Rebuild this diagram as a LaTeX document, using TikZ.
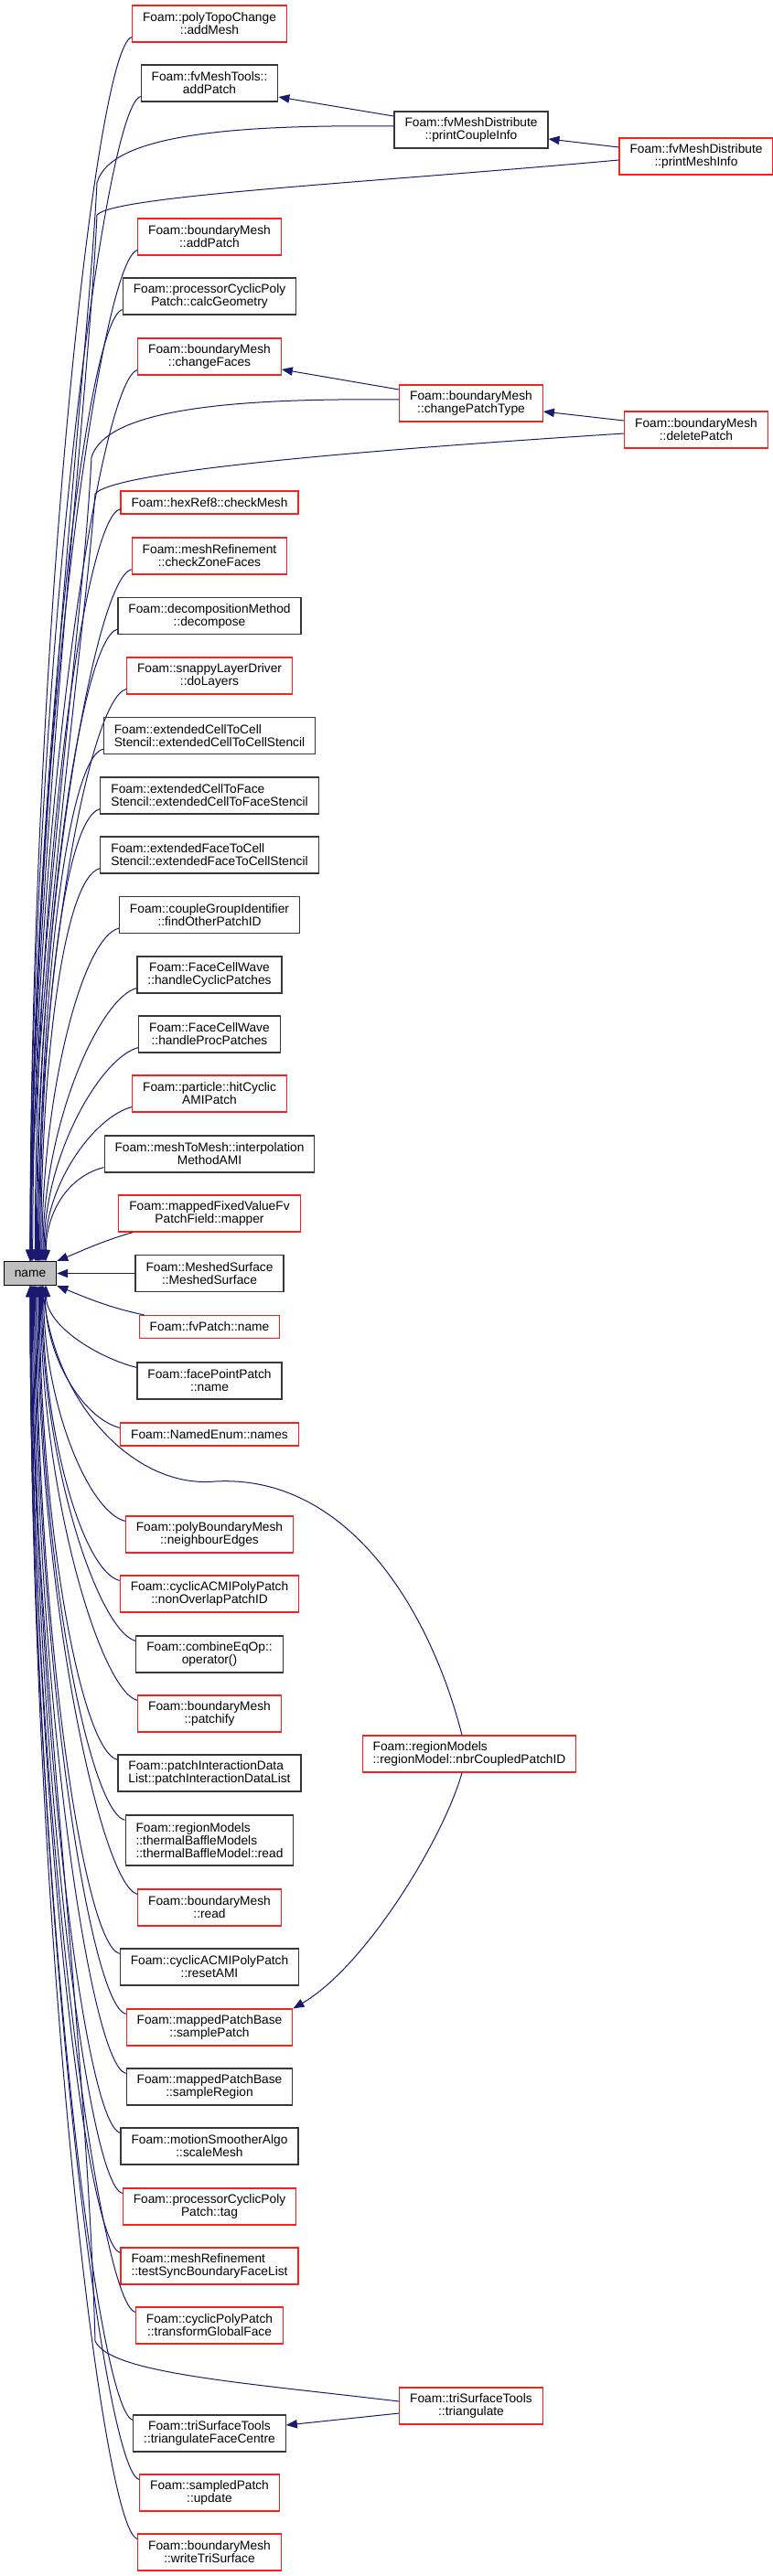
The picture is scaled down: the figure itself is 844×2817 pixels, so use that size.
\documentclass[tikz,border=0pt]{standalone}
\usepackage{fontspec}
\setmainfont{Liberation Sans}
\usepackage{tikz}
\usetikzlibrary{arrows.meta}
\definecolor{edgecol}{RGB}{25,25,112}
\definecolor{boxred}{RGB}{255,30,30}
\definecolor{boxgrey}{RGB}{55,55,55}
\definecolor{namefill}{RGB}{191,191,191}

\begin{document}
\begin{tikzpicture}[x=0.75pt, y=-0.75pt, font=\fontsize{10.3}{10.5}\selectfont,
    box/.style={draw=#1, line width=0.9pt, inner xsep=8.6pt, inner ysep=0pt},
    call/.style={edgecol, line width=0.75pt, -{Triangle[length=9pt, width=7pt]}}]

  \useasboundingbox (0,0) rectangle (844,2817);

  %% ─── Callee ───────────────────────────────────────────────────────────────
  \node[box=black, fill=namefill, minimum height=26*0.75pt] (callee) at (33,1392.5) {name};

  %% ─── Direct callers (one column) ──────────────────────────────────────────
  \foreach \id/\y/\n/\col/\al/\txt in {
      addMesh/26/2/boxred/center/{Foam::polyTopoChange\\::addMesh},
      mtAddPatch/91/2/boxgrey/center/{Foam::fvMeshTools::\\addPatch},
      bmAddPatch/259/2/boxred/center/{Foam::boundaryMesh\\::addPatch},
      calcGeom/324/2/boxgrey/center/{Foam::processorCyclicPoly\\Patch::calcGeometry},
      changeFaces/390/2/boxred/center/{Foam::boundaryMesh\\::changeFaces},
      checkMesh/549.5/1/boxred/center/{Foam::hexRef8::checkMesh},
      checkZone/608/2/boxred/center/{Foam::meshRefinement\\::checkZoneFaces},
      decompose/673.5/2/boxgrey/center/{Foam::decompositionMethod\\::decompose},
      doLayers/739/2/boxred/center/{Foam::snappyLayerDriver\\::doLayers},
      cellToCell/804.5/2/boxgrey/left/{Foam::extendedCellToCell\\Stencil::extendedCellToCellStencil},
      cellToFace/870/2/boxgrey/left/{Foam::extendedCellToFace\\Stencil::extendedCellToFaceStencil},
      faceToCell/935/2/boxgrey/left/{Foam::extendedFaceToCell\\Stencil::extendedFaceToCellStencil},
      findOther/1000.5/2/boxgrey/center/{Foam::coupleGroupIdentifier\\::findOtherPatchID},
      handleCyclic/1066/2/boxgrey/center/{Foam::FaceCellWave\\::handleCyclicPatches},
      handleProc/1131/2/boxgrey/center/{Foam::FaceCellWave\\::handleProcPatches},
      hitCyclic/1196/2/boxred/center/{Foam::particle::hitCyclic\\AMIPatch},
      interpAMI/1262/2/boxgrey/center/{Foam::meshToMesh::interpolation\\MethodAMI},
      mapper/1327/2/boxred/center/{Foam::mappedFixedValueFv\\PatchField::mapper},
      meshedSurf/1392.5/2/boxgrey/center/{Foam::MeshedSurface\\::MeshedSurface},
      fvPatchName/1451/1/boxred/center/{Foam::fvPatch::name},
      facePointName/1510/2/boxgrey/center/{Foam::facePointPatch\\::name},
      namedEnum/1568.5/1/boxred/center/{Foam::NamedEnum::names},
      nbrEdges/1678/2/boxred/center/{Foam::polyBoundaryMesh\\::neighbourEdges},
      nonOverlap/1743/2/boxred/center/{Foam::cyclicACMIPolyPatch\\::nonOverlapPatchID},
      combineOp/1809/2/boxgrey/center/{Foam::combineEqOp::\\operator()},
      patchify/1874/2/boxred/center/{Foam::boundaryMesh\\::patchify},
      interList/1939/2/boxgrey/left/{Foam::patchInteractionData\\List::patchInteractionDataList},
      baffleRead/2012.5/3/boxgrey/left/{Foam::regionModels\\::thermalBaffleModels\\::thermalBaffleModel::read},
      bmRead/2086/2/boxred/center/{Foam::boundaryMesh\\::read},
      resetAMI/2151/2/boxgrey/center/{Foam::cyclicACMIPolyPatch\\::resetAMI},
      samplePatch/2217/2/boxred/center/{Foam::mappedPatchBase\\::samplePatch},
      sampleRegion/2282/2/boxgrey/center/{Foam::mappedPatchBase\\::sampleRegion},
      scaleMesh/2347/2/boxgrey/center/{Foam::motionSmootherAlgo\\::scaleMesh},
      procTag/2413/2/boxred/center/{Foam::processorCyclicPoly\\Patch::tag},
      testSync/2478/2/boxred/left/{Foam::meshRefinement\\::testSyncBoundaryFaceList},
      transformFace/2543/2/boxred/center/{Foam::cyclicPolyPatch\\::transformGlobalFace},
      triFaceCentre/2661/2/boxgrey/center/{Foam::triSurfaceTools\\::triangulateFaceCentre},
      sampledUpdate/2726/2/boxred/center/{Foam::sampledPatch\\::update},
      writeTri/2791/2/boxred/center/{Foam::boundaryMesh\\::writeTriSurface}} {
    \node[box=\col, align=\al, minimum height={(15*\n+10)*0.75pt}] (\id) at (229,\y) {\txt};
    % callers above the callee bend down onto its top
    \ifdim\y pt<1300pt
      \pgfmathsetmacro\dist{1380-\y-(15*\n+10)/2+6}
      \pgfmathsetmacro\dx{max(0,19-\dist/60)*0.75}
      \draw[call] ([yshift=4.5pt]\id.south west) .. controls +(-40,10) and +(0,-0.5*\dist)
        .. ([xshift=\dx pt]callee.north);
    \fi
    % callers below the callee bend up onto its bottom
    \ifdim\y pt>1480pt
      \pgfmathsetmacro\dist{\y-(15*\n+10)/2+6-1406}
      \pgfmathsetmacro\dx{max(0,19-\dist/60)*0.75}
      \draw[call] ([yshift=-4.5pt]\id.north west) .. controls +(-40,-10) and +(0,0.5*\dist)
        .. ([xshift=\dx pt]callee.south);
    \fi
  }

  %% ─── Callers next to the callee ───────────────────────────────────────────
  \draw[call] ([xshift=12pt]mapper.south west) .. controls +(-35,10) and +(25,-10) .. (callee.north east);
  \draw[call] (meshedSurf.west) -- (callee.east);
  \draw[call] ([xshift=4.5pt]fvPatchName.north west) .. controls +(-40,-8) and +(25,10) .. (callee.south east);

  %% ─── Indirect callers ─────────────────────────────────────────────────────
  \node[box=boxgrey, align=center, minimum height=30pt] (coupleInfo) at (515,142)
    {Foam::fvMeshDistribute\\::printCoupleInfo};
  \node[box=boxred, align=center, minimum height=30pt] (meshInfo) at (761,171)
    {Foam::fvMeshDistribute\\::printMeshInfo};
  \node[box=boxred, align=center, minimum height=30pt] (patchType) at (515,441)
    {Foam::boundaryMesh\\::changePatchType};
  \node[box=boxred, align=center, minimum height=30pt] (deletePatch) at (761,470)
    {Foam::boundaryMesh\\::deletePatch};
  \node[box=boxred, align=left, minimum height=30pt] (nbrPatch) at (513,1918)
    {Foam::regionModels\\::regionModel::nbrCoupledPatchID};
  \node[box=boxred, align=center, minimum height=30pt] (triangulate) at (515,2631)
    {Foam::triSurfaceTools\\::triangulate};

  % bends where the long edges turn into the bundle
  \coordinate (coupleBend) at (106,200);
  \coordinate (meshBend) at (106,235);
  \coordinate (patchBend) at (100,500);
  \coordinate (deleteBend) at (104,540);
  \coordinate (nbrBend) at (235,1620);
  \coordinate (triBend) at (104,2560);

  \draw[call] ([yshift=11.25pt]coupleInfo.west) -- ([yshift=-11.25pt]mtAddPatch.east);
  \draw[call] ([yshift=3pt]coupleInfo.west) .. controls (250,136) and (120,148) .. (coupleBend)
    .. controls (96,400) and (36,900) .. (callee.north);
  \draw[call] ([yshift=7.5pt]meshInfo.west) -- ([yshift=-7.5pt]coupleInfo.east);
  \draw[call] ([yshift=-3pt]meshInfo.west) .. controls (400,200) and (125,214) .. (meshBend)
    .. controls (96,450) and (36,950) .. (callee.north);

  \draw[call] ([yshift=11.25pt]patchType.west) -- ([yshift=-10.5pt]changeFaces.east);
  \draw[call] ([yshift=3pt]patchType.west) .. controls (250,435) and (116,448) .. (patchBend)
    .. controls (90,700) and (36,1050) .. (callee.north);
  \draw[call] ([yshift=7.5pt]deletePatch.west) -- ([yshift=-6.75pt]patchType.east);
  \draw[call] ([yshift=-3pt]deletePatch.west) .. controls (400,492) and (125,515) .. (deleteBend)
    .. controls (92,700) and (36,1100) .. (callee.north);

  \draw[call] ([xshift=-6pt]nbrPatch.north) .. controls (470,1760) and (380,1612) .. (nbrBend)
    .. controls (150,1628) and (62,1540) .. ([xshift=10pt]callee.south);
  \draw[call] ([xshift=-6pt]nbrPatch.south) .. controls (485,2010) and (400,2150) .. (samplePatch.north east);

  \draw[call] ([yshift=-6pt]triangulate.west) -- ([yshift=6.75pt]triFaceCentre.east);
  \draw[call] ([yshift=3.75pt]triangulate.west) .. controls (260,2605) and (120,2595) .. (triBend)
    .. controls (94,2200) and (36,1800) .. (callee.south);
\end{tikzpicture}
\end{document}
